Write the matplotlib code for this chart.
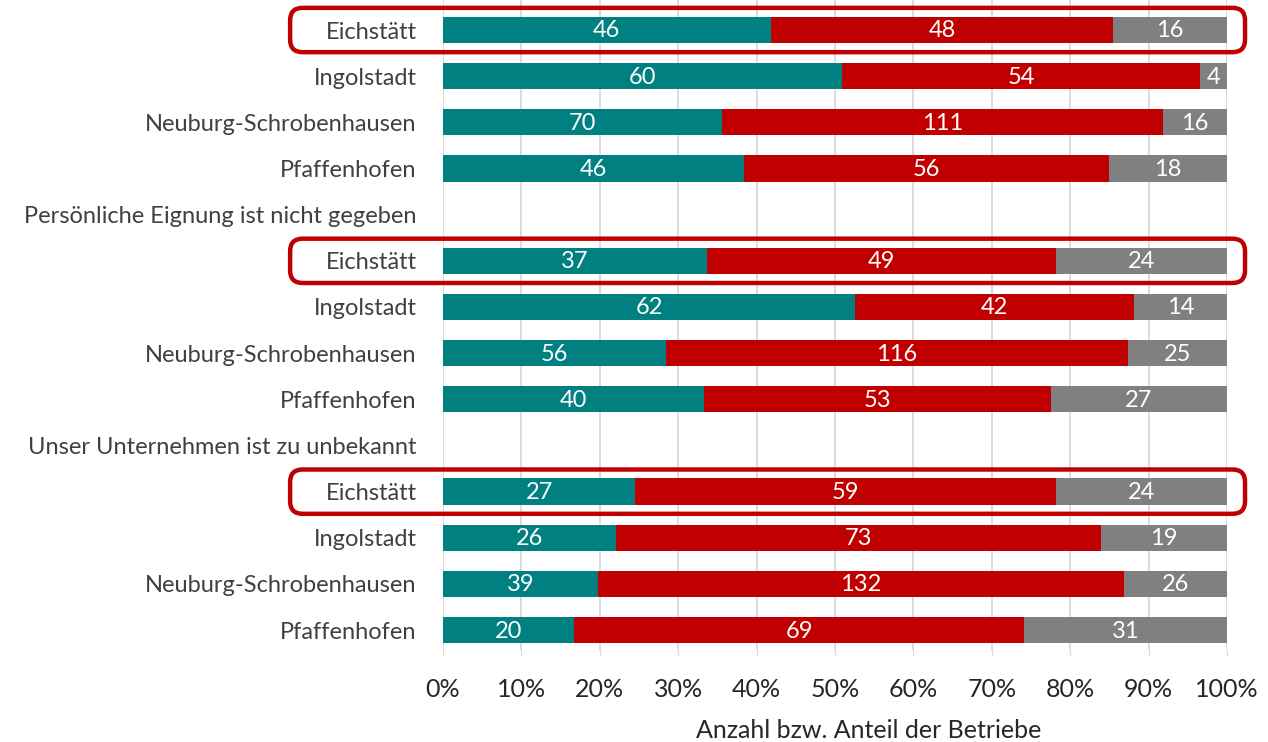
import matplotlib.pyplot as plt
from matplotlib.patches import FancyBboxPatch
import numpy as np

plt.rcParams['font.family'] = ['Lato', 'DejaVu Sans']

# Row labels from top to bottom (header rows carry no bars)
labels = ['Eichstätt', 'Ingolstadt', 'Neuburg-Schrobenhausen', 'Pfaffenhofen',
          'Persönliche Eignung ist nicht gegeben',
          'Eichstätt', 'Ingolstadt', 'Neuburg-Schrobenhausen', 'Pfaffenhofen',
          'Unser Unternehmen ist zu unbekannt',
          'Eichstätt', 'Ingolstadt', 'Neuburg-Schrobenhausen', 'Pfaffenhofen']

# counts per row (None = header row)
teal_vals = [46, 60, 70, 46, None, 37, 62, 56, 40, None, 27, 26, 39, 20]
red_vals = [48, 54, 111, 56, None, 49, 42, 116, 53, None, 59, 73, 132, 69]
gray_vals = [16, 4, 16, 18, None, 24, 14, 25, 27, None, 24, 19, 26, 31]

highlight_rows = [0, 5, 10]

colors = ['#008080', '#C00000', '#808080']

fig = plt.figure(figsize=(12.68, 7.42), dpi=100)
ax = fig.add_axes([443 / 1268, 1 - 650 / 742, 784 / 1268, 650 / 742])

ax.set_xlim(0, 100)
ax.set_ylim(13.43, -0.65)

# vertical gridlines
for x in range(0, 101, 10):
    ax.axvline(x, color='#d9d9d9', lw=1.3, zorder=0)

bar_h = 0.57
for i in range(len(labels)):
    if teal_vals[i] is None:
        continue
    vals = [teal_vals[i], red_vals[i], gray_vals[i]]
    total = sum(vals)
    left = 0
    for v, c in zip(vals, colors):
        w = v / total * 100
        ax.barh(i, w, left=left, height=bar_h, color=c, zorder=2)
        ax.text(left + w / 2, i + 0.02, str(v), ha='center', va='center',
                color='white', fontsize=17, zorder=3)
        left += w

# red rounded boxes around Eichstätt rows
px_x = 784 / 100
px_y = 650 / (13.43 + 0.65)
for r in highlight_rows:
    box = FancyBboxPatch((-19.5, r - 0.48), 121.8, 0.96,
                         boxstyle='round,pad=0,rounding_size=1.6',
                         mutation_aspect=px_x / px_y,
                         fill=False, ec='#C00000', lw=3.2,
                         clip_on=False, zorder=4)
    ax.add_patch(box)

ax.set_yticks(range(len(labels)))
ax.set_yticklabels(labels, fontsize=17, color='#404040')
ax.tick_params(axis='y', length=0, pad=19)

ax.set_xticks(range(0, 101, 10))
ax.set_xticklabels([f'{x}%' for x in range(0, 101, 10)], fontsize=18, color='#262626')
ax.tick_params(axis='x', length=4, color='#d9d9d9', pad=16)

for s in ax.spines.values():
    s.set_visible(False)

fig.text(869 / 1268, 1 - 730 / 742, 'Anzahl bzw. Anteil der Betriebe',
         ha='center', va='center', fontsize=18, color='#262626')

fig.savefig('out.png', dpi=100)
